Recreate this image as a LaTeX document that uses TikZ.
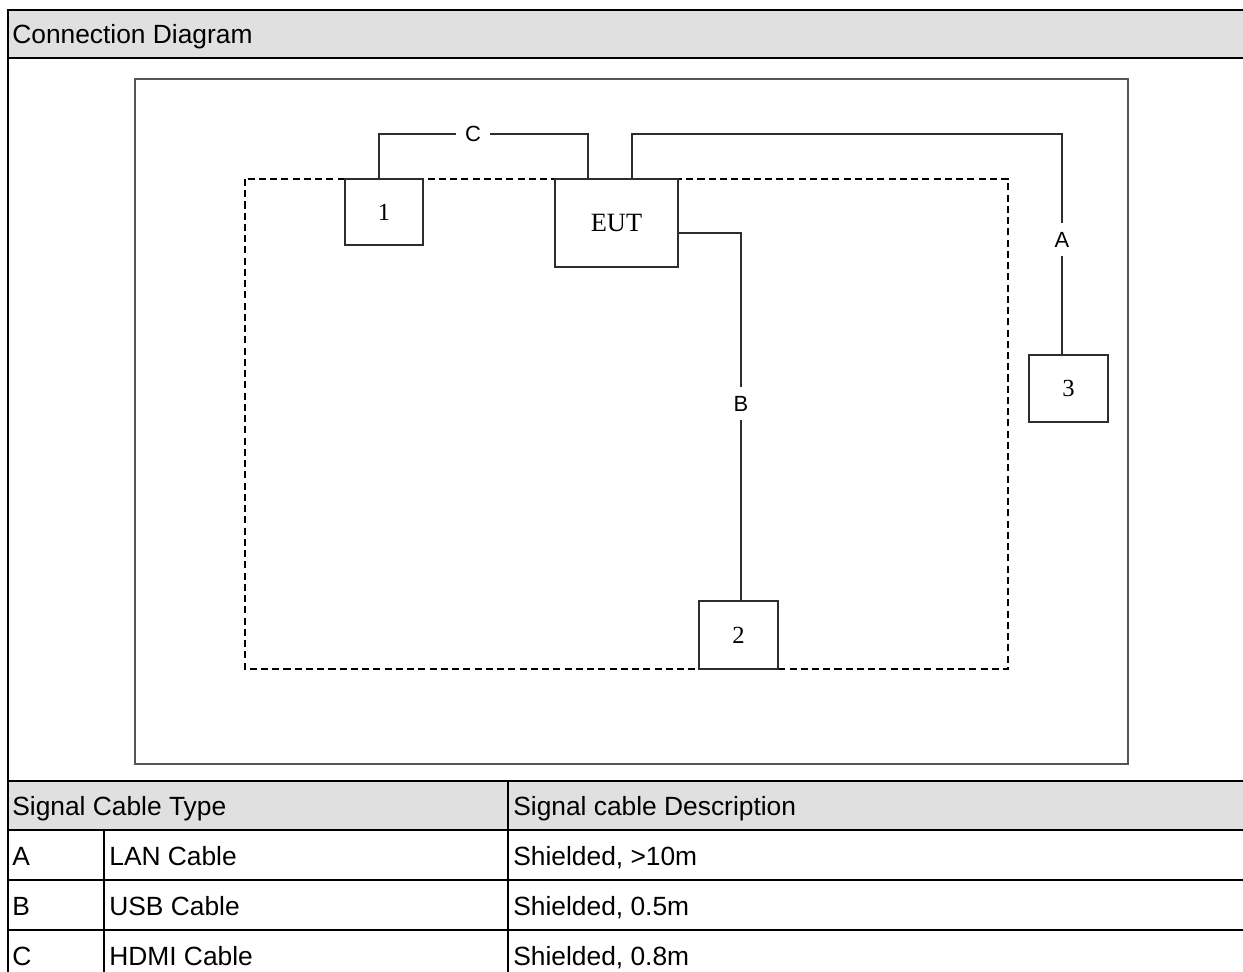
\documentclass[tikz,border=0pt]{standalone}
\usepackage{fontspec}
\setmainfont{Liberation Sans}
\newfontfamily\boxfont{Liberation Serif}
\usepackage{tikz}
\definecolor{headgray}{RGB}{224,224,224}
\definecolor{wiregray}{RGB}{45,45,45}
\definecolor{framegray}{RGB}{85,85,85}
\tikzset{
  unitbox/.style={
    rectangle, draw=wiregray, fill=white, line width=1pt,
    text centered, font=\fontsize{14}{16}\selectfont\boxfont
  },
  cable/.style={draw=wiregray, line width=1.1pt},
  cablelabel/.style={fill=white, inner sep=5pt, font=\fontsize{12.5}{14}\selectfont},
  cell/.style={anchor=base west, inner sep=0pt, font=\fontsize{15}{18}\selectfont},
  tableline/.style={draw=black, line width=1.2pt},
}

\begin{document}
\begin{tikzpicture}[x=0.02cm, y=-0.02cm]
  \clip (0,0) rectangle (1243,972);

  % table frame and header rows
  \fill[headgray] (8,10) rectangle (1260,58);
  \fill[headgray] (8,781) rectangle (1260,830);
  \draw[tableline] (8,10) rectangle (1260,990);
  \draw[tableline] (8,58) -- (1260,58);
  \foreach \y in {781,830,880,930}
    \draw[tableline] (8,\y) -- (1260,\y);
  \draw[tableline] (508,781) -- (508,990);
  \draw[tableline] (104,830) -- (104,990);

  \node (title)    [cell] at (12,44)  {Connection Diagram};
  \node (typehead) [cell] at (12,815) {Signal Cable Type};
  \node (deschead) [cell] at (513,815) {Signal cable Description};
  \foreach \code/\cab/\desc [count=\i] in
      {A/LAN Cable/{Shielded, >10m}, B/USB Cable/{Shielded, 0.5m}, C/HDMI Cable/{Shielded, 0.8m}} {
    \node (code\i) [cell] at (12,{855+50*(\i-1)+10})  {\code};
    \node (cab\i)  [cell] at (109,{855+50*(\i-1)+10}) {\cab};
    \node (desc\i) [cell] at (513,{855+50*(\i-1)+10}) {\desc};
  }

  % test area
  \draw[draw=framegray, line width=1pt] (135,79) rectangle (1128,764);
  \draw[draw=black, line width=1pt, dash pattern=on 4pt off 2.4pt] (245,179) rectangle (1008,669);

  \node (unit1) [unitbox, minimum width=1.56cm, minimum height=1.32cm] at (384,212)   {1};
  \node (eut)   [unitbox, minimum width=2.46cm, minimum height=1.76cm, font=\fontsize{15}{17}\selectfont\boxfont] at (616.5,223) {EUT};
  \node (unit2) [unitbox, minimum width=1.58cm, minimum height=1.36cm] at (738.5,635) {2};
  \node (unit3) [unitbox, minimum width=1.58cm, minimum height=1.34cm] at (1068.5,388.5) {3};

  \coordinate (c1) at (379,134);
  \coordinate (c2) at (588,134);
  \coordinate (a1) at (632,134);
  \coordinate (a2) at (1062,134);
  \coordinate (b1) at (741,233);

  \draw[cable] (unit1.north -| c1) -- (c1) -- node[cablelabel, pos=0.45]{C} (c2) -- (eut.north -| c2);
  \draw[cable] (eut.north -| a1) -- (a1) -- (a2) -- node[cablelabel, pos=0.48]{A} (unit3.north -| a2);
  \draw[cable] (eut.east |- b1) -- (b1) -- node[cablelabel, pos=0.465]{B} (unit2.north -| b1);
\end{tikzpicture}
\end{document}
